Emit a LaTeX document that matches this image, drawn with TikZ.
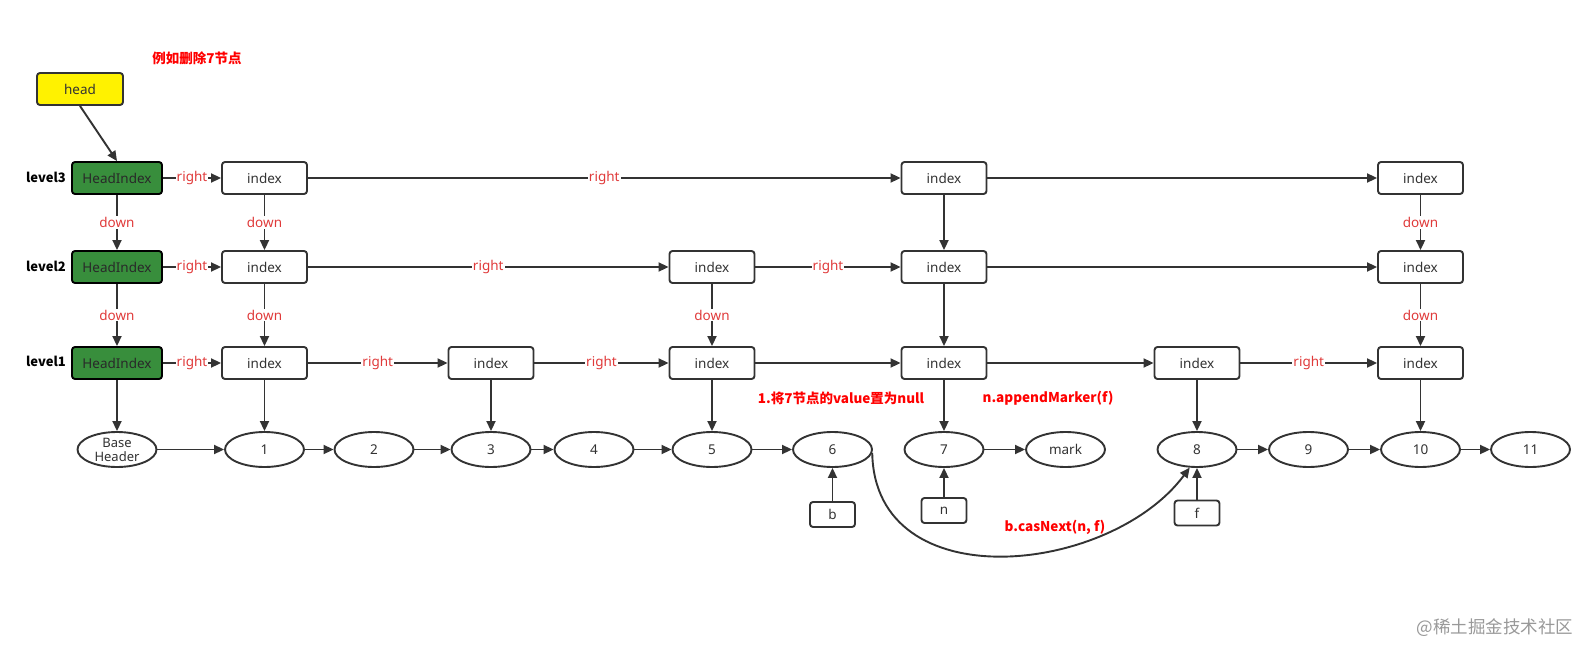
\documentclass[tikz,border=0pt]{standalone}
\usepackage{fontspec}
\setmainfont{Noto Sans}
\newfontfamily\cjk{Noto Sans CJK SC}
\usetikzlibrary{arrows.meta,shapes.geometric}
\definecolor{ln}{HTML}{333333}
\definecolor{grn}{HTML}{388E3C}
\definecolor{lbl}{HTML}{E03A3A}
\definecolor{ann}{HTML}{FF0000}
\begin{document}
\begin{tikzpicture}[x=1pt,y=-1pt,
  font=\fontsize{13.5}{15}\selectfont,
  box/.style={draw=ln,line width=1.9pt,rounded corners=3pt,minimum width=85pt,minimum height=32pt,inner sep=0pt,text=ln,fill=white},
  hbox/.style={box,fill=grn,minimum width=90pt,draw=black,text=ln!80!black},
  ell/.style={ellipse,draw=ln,line width=1.9pt,minimum width=79pt,minimum height=35pt,inner sep=0pt,text=ln,fill=white},
  sbox/.style={box,minimum width=45pt,minimum height=25pt},
  arr/.style={draw=ln,line width=1.9pt,-{Triangle[length=10pt,width=9pt]}},
  lab/.style={midway,fill=white,inner sep=1pt,text=lbl},
  lev/.style={font=\fontsize{13}{14}\selectfont\cjk\bfseries},
  note/.style={text=ann,font=\fontsize{13.5}{15}\selectfont\bfseries\cjk}]
\useasboundingbox (0,0) rectangle (1595,658);
\fill[white] (0,0) rectangle (1595,658);
% annotations
\node[note] (t0) at (197,58) {例如删除7节点};
\node[note] (t1) at (841,398) {1.将7节点的value置为null};
\node[note] (t2) at (1048,398) {n.appendMarker(f)};
\node[note] (t3) at (1055,527) {b.casNext(n, f)};
\node[text=black!40,font=\fontsize{17.5}{19}\selectfont\cjk] (wm) at (1495,628) {@稀土掘金技术社区};
% head
\node[box,fill=yellow,minimum width=86pt] (head) at (80,89) {head};
% level labels
\node[lev] (l3) at (46,177) {level3};
\node[lev] (l2) at (46,266) {level2};
\node[lev] (l1) at (46,361) {level1};
% head indexes
\node[hbox] (h3) at (117,178) {HeadIndex};
\node[hbox] (h2) at (117,267) {HeadIndex};
\node[hbox] (h1) at (117,363) {HeadIndex};
% index nodes
\node[box] (a3) at (264.5,178) {index};
\node[box] (a2) at (264.5,267) {index};
\node[box] (a1) at (264.5,363) {index};
\node[box] (c1) at (491,363) {index};
\node[box] (e2) at (712,267) {index};
\node[box] (e1) at (712,363) {index};
\node[box] (g3) at (944,178) {index};
\node[box] (g2) at (944,267) {index};
\node[box] (g1) at (944,363) {index};
\node[box] (k1) at (1197,363) {index};
\node[box] (r3) at (1420.5,178) {index};
\node[box] (r2) at (1420.5,267) {index};
\node[box] (r1) at (1420.5,363) {index};
% base list
\node[ell,align=center,font=\fontsize{13}{14}\selectfont] (bh) at (117,449.5) {Base\\Header};
\node[ell] (n1) at (264.5,449.5) {1};
\node[ell] (n2) at (374,449.5) {2};
\node[ell] (n3) at (491,449.5) {3};
\node[ell] (n4) at (594,449.5) {4};
\node[ell] (n5) at (712,449.5) {5};
\node[ell] (n6) at (832.5,449.5) {6};
\node[ell] (n7) at (944,449.5) {7};
\node[ell] (mk) at (1065.5,449.5) {mark};
\node[ell] (n8) at (1197,449.5) {8};
\node[ell] (n9) at (1308.5,449.5) {9};
\node[ell] (n10) at (1420.5,449.5) {10};
\node[ell] (n11) at (1530.5,449.5) {11};
% pointers
\node[sbox] (pb) at (832.5,514.5) {b};
\node[sbox] (pn) at (944,510.5) {n};
\node[sbox] (pf) at (1197,513) {f};
% arrows
\draw[arr] (head.south) -- (h3.north);
\draw[arr] (h3) -- node[lab] {right} (a3);
\draw[arr] (h2) -- node[lab] {right} (a2);
\draw[arr] (h1) -- node[lab] {right} (a1);
\draw[arr] (h3) -- node[lab] {down} (h2);
\draw[arr] (h2) -- node[lab] {down} (h1);
\draw[arr] (h1) -- (bh);
\draw[arr] (a3) -- node[lab] {down} (a2);
\draw[arr] (a2) -- node[lab] {down} (a1);
\draw[arr] (a1) -- (n1);
\draw[arr] (a3) -- node[lab] {right} (g3);
\draw[arr] (g3) -- (r3);
\draw[arr] (a2) -- node[lab] {right} (e2);
\draw[arr] (e2) -- node[lab] {right} (g2);
\draw[arr] (g2) -- (r2);
\draw[arr] (a1) -- node[lab] {right} (c1);
\draw[arr] (c1) -- node[lab] {right} (e1);
\draw[arr] (e1) -- (g1);
\draw[arr] (g1) -- (k1);
\draw[arr] (k1) -- node[lab] {right} (r1);
\draw[arr] (c1) -- (n3);
\draw[arr] (e2) -- node[lab] {down} (e1);
\draw[arr] (e1) -- (n5);
\draw[arr] (g3) -- (g2);
\draw[arr] (g2) -- (g1);
\draw[arr] (g1) -- (n7);
\draw[arr] (k1) -- (n8);
\draw[arr] (r3) -- node[lab] {down} (r2);
\draw[arr] (r2) -- node[lab] {down} (r1);
\draw[arr] (r1) -- (n10);
\draw[arr] (bh) -- (n1);
\draw[arr] (n1) -- (n2);
\draw[arr] (n2) -- (n3);
\draw[arr] (n3) -- (n4);
\draw[arr] (n4) -- (n5);
\draw[arr] (n5) -- (n6);
\draw[arr] (n7) -- (mk);
\draw[arr] (n8) -- (n9);
\draw[arr] (n9) -- (n10);
\draw[arr] (n10) -- (n11);
\draw[arr] (pb) -- (n6);
\draw[arr] (pn) -- (n7);
\draw[arr] (pf) -- (n8);
\draw[arr] (n6.-5) .. controls (875,600) and (1110,575) .. (n8.-112);
\end{tikzpicture}
\end{document}
